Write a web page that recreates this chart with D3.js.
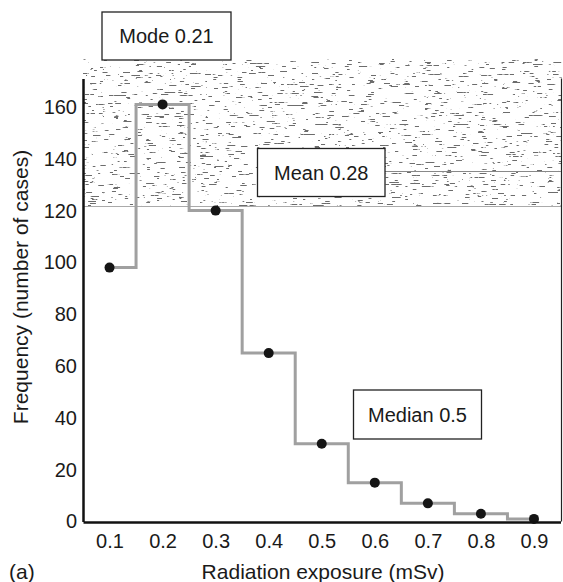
<!DOCTYPE html>
<html>
<head>
<meta charset="utf-8">
<script src="https://cdn.jsdelivr.net/npm/d3@7"></script>
<style>
  html, body { margin: 0; padding: 0; background: #fff; }
  svg { display: block; font-family: "Liberation Sans", Arial, Helvetica, sans-serif; }
</style>
</head>
<body>
<svg id="chart" width="563" height="582"></svg>
<script>
// ---- data ----
const exposure = [0.1, 0.2, 0.3, 0.4, 0.5, 0.6, 0.7, 0.8, 0.9];
const frequency = [98, 161, 120, 65, 30, 15, 7, 3, 1];
const yTicks = [0, 20, 40, 60, 80, 100, 120, 140, 160];
const xTicks = [0.1, 0.2, 0.3, 0.4, 0.5, 0.6, 0.7, 0.8, 0.9];
const annotationLabels = ["Mode 0.21", "Mean 0.28", "Median 0.5"];
const xTitle = "Radiation exposure (mSv)";
const yTitle = "Frequency (number of cases)";
const panelLabel = "(a)";

const data = exposure.map((x, i) => ({ x, y: frequency[i] }));

const svg = d3.select("#chart");
const x = d3.scaleLinear().domain([0.05, 0.95]).range([83, 560.5]);
const y = d3.scaleLinear().domain([0, 171]).range([521.5, 78.5]);

// scanned texture band
const defs = svg.append("defs");
const f = defs.append("filter").attr("id", "grain")
  .attr("x", 0).attr("y", 0).attr("width", 1).attr("height", 1);
f.append("feTurbulence").attr("type", "fractalNoise")
  .attr("baseFrequency", "0.09 0.9").attr("numOctaves", 3).attr("seed", 11).attr("result", "t");
f.append("feColorMatrix").attr("in", "t").attr("type", "matrix")
  .attr("values", "0 0 0 0 0.15  0 0 0 0 0.15  0 0 0 0 0.15  -22 0 0 0 7.4");

svg.append("rect")
  .attr("x", 83).attr("y", 59).attr("width", 479).attr("height", 148)
  .attr("fill", "#fff").attr("filter", "url(#grain)");
svg.append("line")
  .attr("x1", 83).attr("x2", 561).attr("y1", 206.5).attr("y2", 206.5)
  .attr("stroke", "#aaa").attr("stroke-width", 1);

// step line
svg.append("path")
  .datum(data)
  .attr("fill", "none")
  .attr("stroke", "#a0a0a0")
  .attr("stroke-width", 3)
  .attr("d", d3.line().x(d => x(d.x)).y(d => y(d.y)).curve(d3.curveStep));

// points
svg.selectAll("circle.pt").data(data).join("circle")
  .attr("class", "pt")
  .attr("cx", d => x(d.x)).attr("cy", d => y(d.y)).attr("r", 5)
  .attr("fill", "#151515");

// frame: right thin line
svg.append("line")
  .attr("x1", 561.5).attr("x2", 561.5).attr("y1", y(171)).attr("y2", y(0))
  .attr("stroke", "#222").attr("stroke-width", 1.2);

// axes
const yAxis = d3.axisLeft(y).tickValues(yTicks).tickSize(0).tickPadding(6).tickFormat(d3.format("d"));
const gy = svg.append("g").attr("transform", "translate(83,0)").call(yAxis);
gy.select(".domain").attr("stroke", "#111").attr("stroke-width", 2.5);
gy.selectAll("text").attr("font-size", 20).attr("fill", "#1a1a1a")
  .attr("font-family", "'Liberation Sans', Arial, sans-serif");

const xAxis = d3.axisBottom(x).tickValues(xTicks).tickSize(0).tickPadding(12).tickFormat(d3.format(".1f"));
const gx = svg.append("g").attr("transform", "translate(0,522)").call(xAxis);
gx.select(".domain").attr("stroke", "#111").attr("stroke-width", 2.5);
gx.selectAll("text").attr("font-size", 20).attr("fill", "#1a1a1a")
  .attr("font-family", "'Liberation Sans', Arial, sans-serif");

// titles
svg.append("text").attr("x", 323).attr("y", 579).attr("text-anchor", "middle")
  .attr("font-size", 21).attr("fill", "#1a1a1a").text(xTitle);
svg.append("text").attr("transform", "translate(28,287) rotate(-90)").attr("text-anchor", "middle")
  .attr("font-size", 21).attr("fill", "#1a1a1a").text(yTitle);
svg.append("text").attr("x", 9).attr("y", 579)
  .attr("font-size", 21).attr("fill", "#1a1a1a").text(panelLabel);

// annotation boxes
const boxes = [
  { label: annotationLabels[0], x0: 102, y0: 12, w: 129, h: 48 },
  { label: annotationLabels[1], x0: 257.5, y0: 148.5, w: 127.5, h: 48 },
  { label: annotationLabels[2], x0: 353.5, y0: 390, w: 128, h: 49 }
];
// mean leader line
svg.append("line").attr("x1", 385).attr("x2", 561).attr("y1", 171.5).attr("y2", 171.5)
  .attr("stroke", "#888").attr("stroke-width", 1);

const gb = svg.selectAll("g.box").data(boxes).join("g").attr("class", "box");
gb.append("rect")
  .attr("x", d => d.x0).attr("y", d => d.y0).attr("width", d => d.w).attr("height", d => d.h)
  .attr("fill", "#fff").attr("stroke", "#222").attr("stroke-width", 1.3);
gb.append("text")
  .attr("x", d => d.x0 + d.w / 2).attr("y", d => d.y0 + d.h / 2)
  .attr("dy", "0.35em").attr("text-anchor", "middle")
  .attr("font-size", 20).attr("fill", "#1a1a1a")
  .text(d => d.label);
</script>
</body>
</html>
